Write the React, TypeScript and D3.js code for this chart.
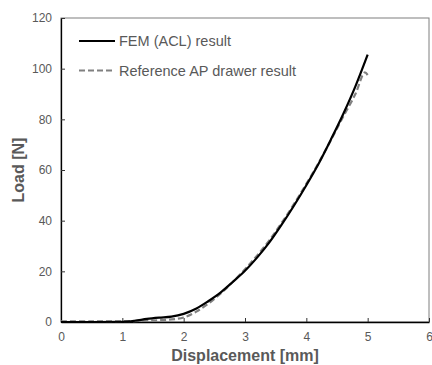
import React, { useEffect, useRef } from "react"
import * as d3 from "d3"

// FEM (ACL) result: [displacement mm, load N]
const femDisp = [0, 0.5, 1.0, 1.2, 1.4, 1.6, 1.8, 2.0, 2.2, 2.4, 2.6, 2.8, 3.0, 3.2, 3.4, 3.6, 3.8, 4.0, 4.2, 4.4, 4.6, 4.8, 5.0]
const femLoad = [0, 0, 0.1, 0.5, 1.2, 1.7, 2.1, 3.2, 5.2, 8.2, 11.6, 15.8, 20.2, 25.5, 31.5, 38.5, 46.0, 54.0, 62.5, 72.0, 82.0, 93.0, 105.5]

// Reference AP drawer result
const refDisp = [0, 0.5, 1.0, 1.5, 1.8, 2.0, 2.2, 2.4, 2.6, 2.8, 3.0, 3.2, 3.4, 3.6, 3.8, 4.0, 4.2, 4.4, 4.6, 4.8, 4.95, 5.0]
const refLoad = [0.3, 0.3, 0.3, 0.6, 1.0, 1.8, 4.0, 7.2, 11.2, 15.8, 20.8, 26.3, 32.3, 39.2, 46.6, 54.5, 62.8, 71.8, 81.0, 90.0, 98.5, 97.5]

const xTicks = [0, 1, 2, 3, 4, 5, 6]
const yTicks = [0, 20, 40, 60, 80, 100, 120]
const seriesNames = ["FEM (ACL) result", "Reference AP drawer result"]

const W = 432
const H = 365
const FONT = "Liberation Sans, Arial, sans-serif"

export default function App() {
    const ref = useRef<SVGSVGElement>(null)

    useEffect(() => {
        const margin = { top: 18, right: 3, bottom: 43, left: 61 }
        const innerW = W - margin.left - margin.right
        const innerH = H - margin.top - margin.bottom

        const svg = d3.select(ref.current)
        svg.selectAll("*").remove()
        const g = svg.append("g").attr("transform", `translate(${margin.left},${margin.top})`)

        const x = d3.scaleLinear().domain([0, 6]).range([0, innerW])
        const y = d3.scaleLinear().domain([0, 120]).range([innerH, 0])

        // plot frame (top/right)
        g.append("rect")
            .attr("x", 0)
            .attr("y", 0)
            .attr("width", innerW)
            .attr("height", innerH)
            .attr("fill", "none")
            .attr("stroke", "#7f7f7f")
            .attr("stroke-width", 1)

        const xAxis = g
            .append("g")
            .attr("transform", `translate(0,${innerH})`)
            .call(d3.axisBottom(x).tickValues(xTicks).tickFormat(d3.format("d")).tickSizeInner(-4).tickSizeOuter(0).tickPadding(10))
        const yAxis = g
            .append("g")
            .call(d3.axisLeft(y).tickValues(yTicks).tickFormat(d3.format("d")).tickSizeInner(-4).tickSizeOuter(0).tickPadding(9))

        ;[xAxis, yAxis].forEach((a) => {
            a.select(".domain").attr("stroke", "#000").attr("stroke-width", 1.3)
            a.selectAll(".tick line").attr("stroke", "#333")
            a.selectAll(".tick text").attr("fill", "#595959").attr("font-family", FONT).attr("font-size", 12)
        })

        const line = d3
            .line<[number, number]>()
            .x((d) => x(d[0]))
            .y((d) => y(d[1]))

        const refPts = refDisp.map((d, i) => [d, refLoad[i]] as [number, number])
        const femPts = femDisp.map((d, i) => [d, femLoad[i]] as [number, number])

        g.append("path")
            .attr("d", line.curve(d3.curveCatmullRom)(refPts))
            .attr("fill", "none")
            .attr("stroke", "#808080")
            .attr("stroke-width", 2.2)
            .attr("stroke-dasharray", "6,3")

        g.append("path")
            .attr("d", line.curve(d3.curveMonotoneX)(femPts))
            .attr("fill", "none")
            .attr("stroke", "#000")
            .attr("stroke-width", 2.2)

        // legend
        const legend = g.append("g").attr("transform", "translate(18,23)")
        seriesNames.forEach((name, i) => {
            const row = legend.append("g").attr("transform", `translate(0,${i * 29.5})`)
            row.append("line")
                .attr("x1", 0)
                .attr("x2", 36)
                .attr("stroke", i === 0 ? "#000" : "#808080")
                .attr("stroke-width", 2.2)
                .attr("stroke-dasharray", i === 0 ? null : "6,3")
            row.append("text")
                .attr("x", 40)
                .attr("dy", "0.35em")
                .attr("fill", "#595959")
                .attr("font-family", FONT)
                .attr("font-size", 14.5)
                .text(name)
        })

        // axis titles
        svg.append("text")
            .attr("x", margin.left + innerW / 2)
            .attr("y", 361)
            .attr("text-anchor", "middle")
            .attr("fill", "#595959")
            .attr("font-family", FONT)
            .attr("font-weight", "bold")
            .attr("font-size", 16)
            .text("Displacement [mm]")

        svg.append("text")
            .attr("transform", `translate(24,${margin.top + innerH / 2}) rotate(-90)`)
            .attr("text-anchor", "middle")
            .attr("fill", "#595959")
            .attr("font-family", FONT)
            .attr("font-weight", "bold")
            .attr("font-size", 16)
            .text("Load [N]")
    }, [])

    return <svg ref={ref} width={W} height={H} style={{ position: "absolute", left: 0, top: 0, background: "#fff" }} />
}
